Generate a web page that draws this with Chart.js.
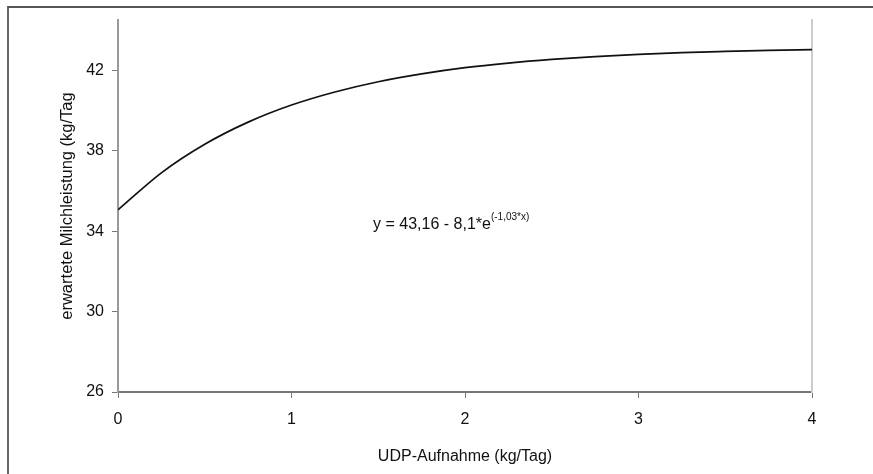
<!DOCTYPE html>
<html>
<head>
<title>UDP-Aufnahme</title>
<script src="https://cdn.jsdelivr.net/npm/chart.js"></script>
<style>
body{margin:0;background:#fff;}
#wrap{position:relative;width:873px;height:474px;}
#frame{position:absolute;left:7px;top:6px;right:0;bottom:0;border-left:2px solid #666;border-top:2px solid #555;}
</style>
</head>
<body>
<div id="wrap">
<div id="frame"></div>
<canvas id="myChart" width="873" height="474"></canvas>
</div>
<script>
// UDP-Aufnahme (kg/Tag) -> erwartete Milchleistung
var udp = [0, 0.25, 0.5, 0.75, 1, 1.25, 1.5, 1.75, 2, 2.25, 2.5, 2.75, 3, 3.25, 3.5, 3.75, 4];
var milch = [35.06, 36.90, 38.32, 39.42, 40.27, 40.92, 41.43, 41.82, 42.13, 42.36, 42.54, 42.68, 42.79, 42.88, 42.94, 42.99, 43.03];
var yTicks = [26, 30, 34, 38, 42];
var xTicks = [0, 1, 2, 3, 4];
var formel = "y = 43,16 - 8,1*e";
var hochzahl = "(-1,03*x)";

var FONT = "'Liberation Sans', Arial, sans-serif";

// equation text inside the plot
var formelPlugin = {
  id: 'formel',
  afterDatasetsDraw: function(chart) {
    var ctx = chart.ctx;
    var x = chart.scales.x.getPixelForValue(1.47);
    var y = chart.scales.y.getPixelForValue(34.1);
    ctx.save();
    ctx.fillStyle = '#111';
    ctx.textBaseline = 'alphabetic';
    ctx.font = "16px " + FONT;
    ctx.fillText(formel, x, y);
    var w = ctx.measureText(formel).width;
    ctx.font = "10px " + FONT;
    ctx.fillText(hochzahl, x + w, y - 9);
    ctx.restore();
  }
};

var pts = udp.map(function(v, i){ return {x: v, y: milch[i]}; });

const myChart = new Chart(document.getElementById('myChart'), {
  type: 'line',
  data: {
    datasets: [{
      data: pts,
      borderColor: '#111',
      borderWidth: 1.7,
      pointRadius: 0,
      cubicInterpolationMode: 'monotone',
      fill: false
    }]
  },
  options: {
    responsive: false,
    animation: false,
    events: [],
    layout: {padding: {left: 0, right: 60, top: 20, bottom: 0}},
    plugins: {legend: {display: false}, tooltip: {enabled: false}},
    scales: {
      x: {
        type: 'linear', min: 0, max: 4,
        afterBuildTicks: function(s){ s.ticks = xTicks.map(function(v){ return {value: v}; }); },
        afterFit: function(s){ s.height = 82; },
        grid: {display: true, drawOnChartArea: false, drawTicks: true, tickLength: 6, color: '#777', tickWidth: 1},
        border: {display: true, color: '#777', width: 2},
        ticks: {color: '#111', padding: 12, font: {family: FONT, size: 16}, maxRotation: 0},
        title: {display: true, text: 'UDP-Aufnahme (kg/Tag)', color: '#111', font: {family: FONT, size: 16}, padding: {top: 4, bottom: 8}}
      },
      y: {
        type: 'linear', min: 26, max: 44.5,
        afterBuildTicks: function(s){ s.ticks = yTicks.map(function(v){ return {value: v}; }); },
        afterFit: function(s){ s.width = 118; },
        grid: {display: true, drawOnChartArea: false, drawTicks: true, tickLength: 6, color: '#777', tickWidth: 1},
        border: {display: true, color: '#999', width: 2},
        ticks: {color: '#111', padding: 8, font: {family: FONT, size: 16}},
        title: {display: true, text: 'erwartete Milchleistung (kg/Tag', color: '#111', font: {family: FONT, size: 16.5}, padding: {top: 58, bottom: 0}}
      },
      y2: {
        type: 'linear', position: 'right', min: 26, max: 44.5,
        afterFit: function(s){ s.width = 1; },
        grid: {display: false, drawTicks: false},
        border: {display: true, color: '#ccc', width: 2},
        ticks: {display: false}
      }
    }
  },
  plugins: [formelPlugin]
});
</script>
</body>
</html>
